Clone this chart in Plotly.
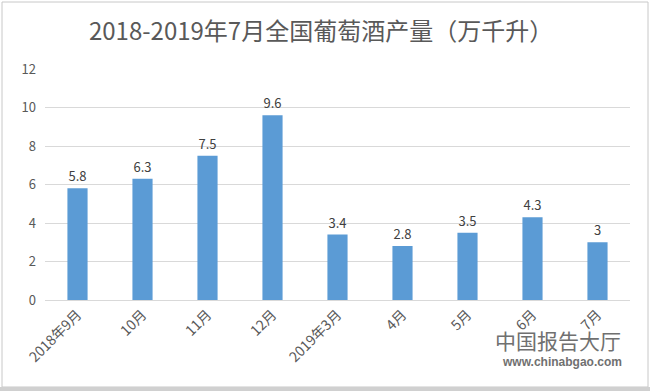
import plotly.graph_objects as go

categories = ["2018年9月", "10月", "11月", "12月", "2019年3月", "4月", "5月", "6月", "7月"]
values = [5.8, 6.3, 7.5, 9.6, 3.4, 2.8, 3.5, 4.3, 3]
value_labels = ["5.8", "6.3", "7.5", "9.6", "3.4", "2.8", "3.5", "4.3", "3"]
title_text = "2018-2019年7月全国葡萄酒产量（万千升）"

font_family = "Noto Sans CJK SC, Microsoft YaHei, sans-serif"

L, R, T, B = 45, 20, 69, 91
PW, PH = 650 - L - R, 391 - T - B

fig = go.Figure(go.Bar(
    x=categories, y=values, text=value_labels, textposition="outside",
    textfont=dict(size=13, color="#404040", family=font_family),
    marker=dict(color="#5B9BD5", line=dict(width=0)),
    cliponaxis=False,
))

fig.update_layout(
    width=650, height=391,
    paper_bgcolor="white", plot_bgcolor="white",
    margin=dict(l=L, r=R, t=T, b=B, autoexpand=False),
    bargap=0.69,
    showlegend=False,
    title=dict(text=title_text, x=0.494, xanchor="center", y=1 - 32 / 391, yanchor="middle",
               font=dict(size=24, color="#595959", family=font_family)),
    font=dict(family=font_family, color="#595959", size=12),
    xaxis=dict(tickangle=-45, showgrid=False, showline=True, linecolor="#d9d9d9",
               ticks="", tickfont=dict(size=14, color="#595959")),
    yaxis=dict(range=[0, 12], dtick=2, showgrid=True, gridcolor="#d9d9d9",
               zeroline=False, ticks="", tickfont=dict(size=13, color="#595959"),
               ticklabelstandoff=8),
    shapes=[
        dict(type="rect", xref="paper", yref="paper",
             x0=(-L + 2) / PW, x1=1 + (R - 2) / PW,
             y0=-(B - 4) / PH, y1=1 + (T - 2) / PH,
             line=dict(color="#c8c8c8", width=1)),
        dict(type="rect", xref="paper", yref="paper",
             x0=-L / PW, x1=1 + R / PW,
             y0=-B / PH, y1=-(B - 4) / PH,
             line=dict(width=0), fillcolor="#d0d0d0"),
    ],
)

# watermark
fig.add_annotation(xref="paper", yref="paper", x=(623 - L) / PW, y=-(340 - (T + PH)) / PH,
                   xanchor="right", yanchor="middle",
                   text="中国报告大厅", showarrow=False,
                   font=dict(size=21, color="#707070", family=font_family))
fig.add_annotation(xref="paper", yref="paper", x=(624 - L) / PW, y=-(362 - (T + PH)) / PH,
                   xanchor="right", yanchor="middle",
                   text="<b>www.chinabgao.com</b>", showarrow=False,
                   font=dict(size=12, color="#707070", family="Arial, Liberation Sans, sans-serif"))

fig.write_html("out.html", post_script="document.body.style.margin='0';",
               config={"displayModeBar": False})
